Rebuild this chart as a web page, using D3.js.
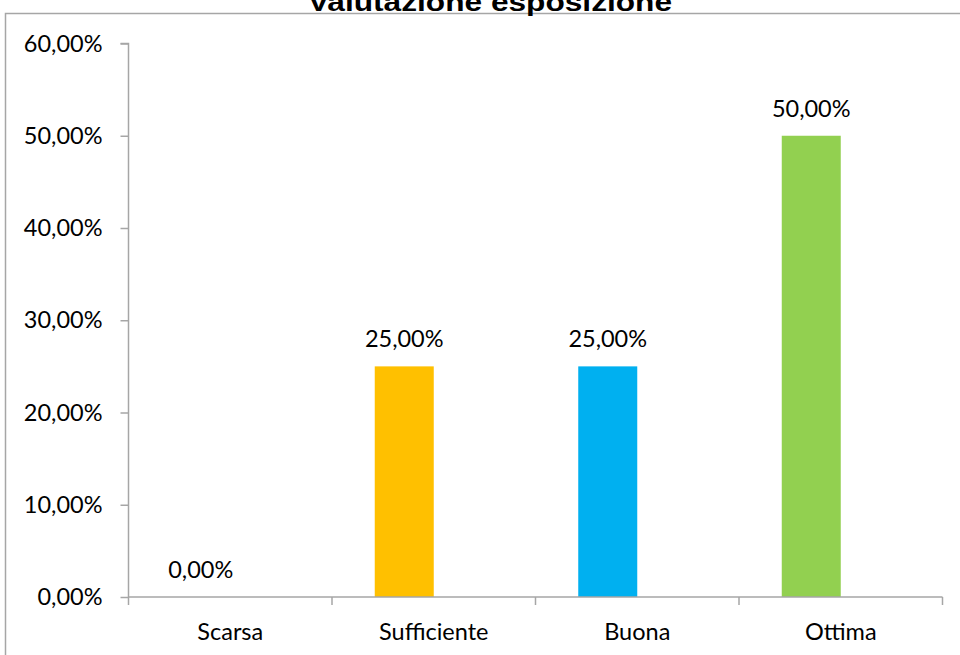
<!DOCTYPE html>
<html><head><meta charset="utf-8">
<script src="https://cdn.jsdelivr.net/npm/d3@7"></script>
<style>body{margin:0;background:#fff}svg{display:block}</style>
</head><body>
<svg id="c" width="960" height="655"></svg>
<script>
const categories = ["Scarsa", "Sufficiente", "Buona", "Ottima"];
const values = [0, 25, 25, 50];
const colors = ["#4472C4", "#FFC000", "#00B0F0", "#92D050"];
const yTicks = [0, 10, 20, 30, 40, 50, 60];
const title = "Valutazione esposizione";

const svg = d3.select("#c");
const fmt = v => v.toFixed(2).replace(".", ",") + "%";
const font = "Lato, 'Open Sans', sans-serif";
const fs = 23.5;
const axisColor = "#a6a6a6";

// outer border
svg.append("rect").attr("x", 5.5).attr("y", 13.5).attr("width", 980).attr("height", 700)
  .attr("fill", "none").attr("stroke", axisColor).attr("stroke-width", 1.5);

// title
svg.append("text").attr("x", 490).attr("y", 11).attr("text-anchor", "middle")
  .attr("font-family", "'Liberation Sans', Arial, sans-serif").attr("font-weight", "bold")
  .attr("font-size", 26).attr("textLength", 364).attr("lengthAdjust", "spacingAndGlyphs")
  .text(title);

const x = d3.scaleBand().domain(categories).range([128.5, 942.5]).padding(0);
const y = d3.scaleLinear().domain([0, 60]).range([597, 43.5]);
const barW = 59;

// y axis
const ya = svg.append("g").attr("transform", "translate(128.5,0)")
  .call(d3.axisLeft(y).tickValues(yTicks).tickSize(8).tickPadding(18).tickFormat(fmt));
ya.select(".domain").attr("stroke", axisColor).attr("stroke-width", 1.5).attr("d", `M-8,${y(60)}H0V${y(0)}`);
ya.selectAll(".tick line").attr("stroke", axisColor).attr("stroke-width", 1.5);
ya.selectAll(".tick text").attr("font-family", font).attr("font-size", fs).attr("fill", "#000").attr("dy", "0.32em");

// bars
svg.selectAll("rect.bar").data(categories).enter().append("rect").attr("class", "bar")
  .attr("x", d => x(d) + x.bandwidth() / 2 - barW)
  .attr("width", barW)
  .attr("y", (d, i) => y(values[i]))
  .attr("height", (d, i) => y(0) - y(values[i]))
  .attr("fill", (d, i) => colors[i]);

// x axis
const xa = svg.append("g").attr("transform", `translate(0,${y(0)})`)
  .call(d3.axisBottom(x).tickSize(0).tickPadding(26));
xa.select(".domain").attr("stroke", axisColor).attr("stroke-width", 1.5)
  .attr("d", `M128.5,0H942.5`);
xa.selectAll(".tick text").attr("font-family", font).attr("font-size", fs).attr("fill", "#000");
const bounds = categories.map(c => x(c)).concat([x.range()[1]]);
xa.selectAll("line.sep").data(bounds).enter().append("line").attr("class", "sep")
  .attr("x1", d => d).attr("x2", d => d).attr("y1", 0).attr("y2", 8)
  .attr("stroke", axisColor).attr("stroke-width", 1.5);

// data labels
svg.selectAll("text.lbl").data(categories).enter().append("text").attr("class", "lbl")
  .attr("x", d => x(d) + x.bandwidth() / 2 - barW / 2)
  .attr("y", (d, i) => y(values[i]) - 19)
  .attr("text-anchor", "middle").attr("font-family", font).attr("font-size", fs).attr("fill", "#000")
  .text((d, i) => fmt(values[i]));
</script>
</body></html>
